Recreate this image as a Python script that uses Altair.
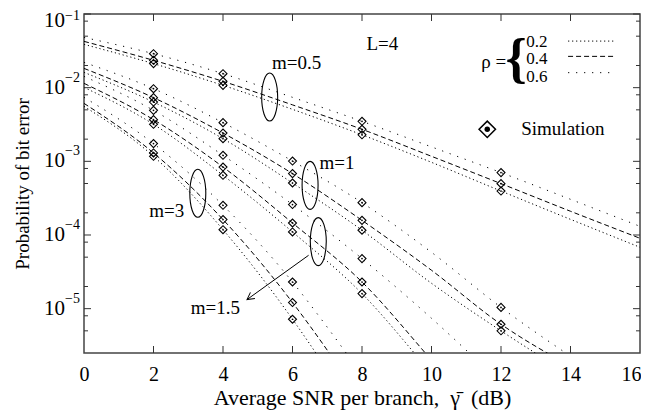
import altair as alt
import pandas as pd

SERIF = "Liberation Serif"

# ---------------- theory curves (BER) ----------------
snr_m05 = [0, 2, 4, 6, 8, 10, 12, 14, 16]
m05_r02 = [0.0387, 0.0212, 0.01075, 0.00508, 0.00229, 0.000969, 0.000395, 0.000163, 0.0000681]
m05_r04 = [0.0425, 0.0235, 0.01218, 0.00584, 0.00272, 0.00117, 0.000498, 0.00021, 0.0000902]
m05_r06 = [0.0481, 0.0289, 0.01549, 0.00739, 0.00349, 0.00157, 0.000703, 0.000305, 0.000131]

snr_m1 = [0, 2, 4, 6, 8, 10, 12, 14]
m1_r02 = [0.01613, 0.00638, 0.00203, 0.000508, 0.000116, 0.0000221, 0.0000050, 0.00000125]
m1_r04 = [0.01827, 0.00732, 0.00242, 0.000681, 0.000158, 0.0000332, 0.00000614, 0.00000165]
m1_r06 = [0.02204, 0.00969, 0.00335, 0.001009, 0.000275, 0.0000582, 0.0000104, 0.00000226]

snr_m15 = [0, 2, 4, 6, 8, 10, 12]
m15_r02 = [0.01009, 0.00318, 0.000646, 0.00011, 0.000016, 0.00000133, 0.00000011]
m15_r04 = [0.01144, 0.00368, 0.000837, 0.0001455, 0.000023, 0.000002, 0.00000016]
m15_r06 = [0.01423, 0.00492, 0.001206, 0.000259, 0.0000478, 0.0000074, 0.00000097]

snr_m3 = [0, 2, 4, 6, 7, 8]
m3_r02 = [0.00558, 0.00117, 0.000118, 0.00000718, 0.00000146, 0.00000026]
m3_r04 = [0.00612, 0.0013, 0.000162, 0.0000121, 0.00000273, 0.00000054]
m3_r06 = [0.00739, 0.00174, 0.000253, 0.000023, 0.0000056, 0.00000125]

# ---------------- simulation points ----------------
sim_snr_m05 = [2, 4, 8, 12]
sim_m05_r02 = [0.0212, 0.01075, 0.00229, 0.000395]
sim_m05_r04 = [0.0235, 0.01218, 0.00272, 0.000498]
sim_m05_r06 = [0.0289, 0.01549, 0.00349, 0.000703]

sim_snr_m1 = [2, 4, 6, 8, 12]
sim_m1_r02 = [0.00638, 0.00203, 0.000508, 0.000116, 0.0000050]
sim_m1_r04 = [0.00732, 0.00242, 0.000681, 0.000158, 0.00000614]
sim_m1_r06 = [0.00969, 0.00335, 0.001009, 0.000275, 0.0000104]

sim_snr_m15 = [2, 4, 6, 8]
sim_m15_r02 = [0.00318, 0.000646, 0.00011, 0.000016]
sim_m15_r04 = [0.00368, 0.000837, 0.0001455, 0.000023]
sim_m15_r06 = [0.00492, 0.001206, 0.000259, 0.0000478]

sim_snr_m3 = [2, 4, 6]
sim_m3_r02 = [0.00117, 0.000118, 0.00000718]
sim_m3_r04 = [0.0013, 0.000162, 0.0000121]
sim_m3_r06 = [0.00174, 0.000253, 0.000023]

# ---------------- axes ----------------
x_label_values = [0, 2, 4, 6, 8, 10, 12, 14, 16]
x_tick_values = [2, 4, 6, 8, 10, 12, 14]
y_exponents = [-1, -2, -3, -4, -5]
y_minor = [0.08, 0.05, 0.02, 0.008, 0.005, 0.002, 0.0008, 0.0005, 0.0002,
           0.00008, 0.00005, 0.00002, 0.000008, 0.000005]
X_MIN, X_MAX = 0, 16
Y_MIN, Y_MAX = 2.5e-6, 0.1
NB = "\u00a0"
X_TITLE = "Average SNR per branch," + NB * 2 + "\u03b3\u0304" + NB * 2 + "(dB)"
Y_TITLE = "Probability of bit error"

# ---------------- annotations ----------------
ell_x = [5.343, 6.506, 6.742, 3.275]
ell_y = [0.00746, 0.000472, 0.0000813, 0.000368]
mlab_text = ["m=0.5", "m=1", "m=1.5", "m=3"]
mlab_x = [6.118, 7.282, 3.783, 2.384]
mlab_y = [0.02137, 0.00094, 0.00001028, 0.00021]
arrow_x = [6.463, 4.691]
arrow_y = [0.000053, 0.00001329]
L_text, L_x, L_y = "L=4", 8.13, 0.0393

# legend
rho_levels = ["0.2", "0.4", "0.6"]
rho_y = [0.0418, 0.0245, 0.0141]
rho_sample_y = [0.04288, 0.0266, 0.01598]
rho_sample_x = [13.93, 15.31]
rho_num_x = 12.725
rho_sym_x, rho_sym_y = 12.151, 0.02204
brace_x, brace_y = 12.438, 0.02346
simleg_x, simleg_y, simleg_text_x = 11.605, 0.002718, 12.582

# ---------------- data tables ----------------
theory_sets = [
    ("0.5", snr_m05, [m05_r02, m05_r04, m05_r06]),
    ("1", snr_m1, [m1_r02, m1_r04, m1_r06]),
    ("1.5", snr_m15, [m15_r02, m15_r04, m15_r06]),
    ("3", snr_m3, [m3_r02, m3_r04, m3_r06]),
]
rows = []
for m, xs_, curves in theory_sets:
    for rho, ys_ in zip(rho_levels, curves):
        for xv, yv in zip(xs_, ys_):
            rows.append({"m": m, "rho": rho, "snr": xv, "ber": yv})
theory = pd.DataFrame(rows)

sim_sets = [
    ("0.5", sim_snr_m05, [sim_m05_r02, sim_m05_r04, sim_m05_r06]),
    ("1", sim_snr_m1, [sim_m1_r02, sim_m1_r04, sim_m1_r06]),
    ("1.5", sim_snr_m15, [sim_m15_r02, sim_m15_r04, sim_m15_r06]),
    ("3", sim_snr_m3, [sim_m3_r02, sim_m3_r04, sim_m3_r06]),
]
srows = []
for m, xs_, curves in sim_sets:
    for rho, ys_ in zip(rho_levels, curves):
        for xv, yv in zip(xs_, ys_):
            srows.append({"m": m, "rho": rho, "snr": xv, "ber": yv})
sim = pd.DataFrame(srows)

xs = alt.Scale(domain=[X_MIN, X_MAX], nice=False, zero=False)
ys = alt.Scale(type="log", domain=[Y_MIN, Y_MAX], nice=False)
dash_scale = alt.Scale(domain=rho_levels, range=[[1.2, 2.8], [5, 3], [1.2, 6.8]])

XAXIS = alt.Axis(
    values=x_label_values, format="d", labelFontSize=20, ticks=False,
    domain=False, grid=False, labelPadding=11, labelFlush=False,
    labelOverlap=False, title=X_TITLE, titleFontSize=22, titlePadding=3,
    labelOffset={"condition": {"test": f"datum.value == {X_MAX}", "value": -9}, "value": 0})
YAXIS = alt.Axis(
    title=Y_TITLE, labels=False, ticks=False, domain=False, grid=False,
    titleFontSize=19, titlePadding=52)


def X(f="snr"):
    return alt.X(f, type="quantitative", scale=xs, axis=XAXIS, title=X_TITLE)


def Y(f="ber"):
    return alt.Y(f, type="quantitative", scale=ys, axis=YAXIS, title=Y_TITLE)


def XD(v):
    return alt.XDatum(v, type="quantitative", scale=xs, axis=XAXIS, title=X_TITLE)


def YD(v):
    return alt.YDatum(v, type="quantitative", scale=ys, axis=YAXIS, title=Y_TITLE)


lines = alt.Chart(theory).mark_line(
    clip=True, strokeWidth=1, color="black", interpolate="monotone"
).encode(
    x=X(), y=Y(),
    strokeDash=alt.StrokeDash("rho:N", scale=dash_scale, legend=None),
    detail="m:N",
)

sim_pts = alt.Chart(sim).mark_point(
    shape="diamond", size=64, filled=False, stroke="black", strokeWidth=1.1, opacity=1
).encode(x=X(), y=Y())
sim_dots = alt.Chart(sim).mark_point(
    shape="circle", size=3, filled=True, color="black", opacity=1
).encode(x=X(), y=Y())

# y tick labels "10" + exponent
ylab = pd.DataFrame({"e": y_exponents})
ylab["val"] = [10.0 ** e for e in y_exponents]
ylab["exp"] = ["\u2212" + str(-e) for e in y_exponents]
ylab["x"] = X_MIN
ten_main = alt.Chart(ylab).transform_filter("datum.e < -1").mark_text(
    align="right", baseline="middle", dx=-19, fontSize=21, font=SERIF, color="black"
).encode(x=X("x"), y=Y("val"), text=alt.value("10"))
exp_main = alt.Chart(ylab).transform_filter("datum.e < -1").mark_text(
    align="left", baseline="middle", dx=-19, dy=-10, fontSize=14, font=SERIF, color="black"
).encode(x=X("x"), y=Y("val"), text="exp:N")
ten_top = alt.Chart(ylab).transform_filter("datum.e == -1").mark_text(
    align="right", baseline="middle", dx=-19, dy=7, fontSize=21, font=SERIF, color="black"
).encode(x=X("x"), y=Y("val"), text=alt.value("10"))
exp_top = alt.Chart(ylab).transform_filter("datum.e == -1").mark_text(
    align="left", baseline="middle", dx=-19, dy=2, fontSize=14, font=SERIF, color="black"
).encode(x=X("x"), y=Y("val"), text="exp:N")

# inward ticks
maj = pd.DataFrame({"val": [10.0 ** e for e in y_exponents]})
mnr = pd.DataFrame({"val": y_minor})
xt = pd.DataFrame({"snr": x_tick_values})
TC = "#333"
tick_layers = []
for df, size in [(maj, 7), (mnr, 4)]:
    tick_layers.append(alt.Chart(df).mark_tick(orient="horizontal", size=size, thickness=1,
                                               color=TC, xOffset=size / 2, opacity=1)
                       .encode(x=XD(X_MIN), y=Y("val")))
    tick_layers.append(alt.Chart(df).mark_tick(orient="horizontal", size=size, thickness=1,
                                               color=TC, xOffset=-size / 2, opacity=1)
                       .encode(x=XD(X_MAX), y=Y("val")))
tick_layers.append(alt.Chart(xt).mark_tick(orient="vertical", size=7, thickness=1, color=TC,
                                           yOffset=-3.5, opacity=1)
                   .encode(x=X("snr"), y=YD(Y_MIN)))
tick_layers.append(alt.Chart(xt).mark_tick(orient="vertical", size=7, thickness=1, color=TC,
                                           yOffset=3.5, opacity=1)
                   .encode(x=X("snr"), y=YD(Y_MAX)))

# ellipses and labels
ELLIPSE = ("M0,-1 C0.184,-1 0.333,-0.552 0.333,0 C0.333,0.552 0.184,1 0,1 "
           "C-0.184,1 -0.333,0.552 -0.333,0 C-0.333,-0.552 -0.184,-1 0,-1 Z")
ell = pd.DataFrame({"snr": ell_x, "ber": ell_y})
ellipses = alt.Chart(ell).mark_point(
    shape=ELLIPSE, size=2304, filled=False, stroke="black", strokeWidth=1.1, opacity=1
).encode(x=X(), y=Y())
mlab = pd.DataFrame({"snr": mlab_x, "ber": mlab_y, "t": mlab_text})
mlabels = alt.Chart(mlab).mark_text(
    align="center", baseline="middle", fontSize=19, font=SERIF, color="black"
).encode(x=X(), y=Y(), text="t:N")

arr = pd.DataFrame({"x1": [arrow_x[0]], "y1": [arrow_y[0]], "x2": [arrow_x[1]], "y2": [arrow_y[1]]})
arrow_line = alt.Chart(arr).mark_rule(color="black", strokeWidth=1).encode(
    x=X("x1"), y=Y("y1"), x2="x2", y2="y2")
arrow_head = alt.Chart(arr).mark_point(
    shape="M-1,-0.55 L0,0 L-1,0.55", size=196, filled=False, stroke="black",
    strokeWidth=1, angle=144.3, opacity=1
).encode(x=X("x2"), y=Y("y2"))

Ltxt = alt.Chart(pd.DataFrame({"snr": [L_x], "ber": [L_y], "t": [L_text]})).mark_text(
    align="left", baseline="middle", fontSize=19, font=SERIF, color="black"
).encode(x=X(), y=Y(), text="t:N")

# legend (rho)
rho_sym = alt.Chart(pd.DataFrame({"snr": [rho_sym_x], "ber": [rho_sym_y]})).mark_text(
    align="right", baseline="middle", fontSize=19, font=SERIF, color="black"
).encode(x=X(), y=Y(), text=alt.value("\u03c1 ="))
brace = alt.Chart(pd.DataFrame({"snr": [brace_x], "ber": [brace_y]})).mark_text(
    align="center", baseline="middle", fontSize=54, font=SERIF, fontWeight="bold", color="black"
).encode(x=X(), y=Y(), text=alt.value("{"))
rho_nums = alt.Chart(pd.DataFrame({"snr": [rho_num_x] * 3, "ber": rho_y, "t": rho_levels})).mark_text(
    align="left", baseline="middle", fontSize=17, font=SERIF, color="black"
).encode(x=X(), y=Y(), text="t:N")
samp_rows = []
for rho, yv in zip(rho_levels, rho_sample_y):
    for xv in rho_sample_x:
        samp_rows.append({"rho": rho, "snr": xv, "ber": yv})
samples = alt.Chart(pd.DataFrame(samp_rows)).mark_line(strokeWidth=1, color="black").encode(
    x=X(), y=Y(), strokeDash=alt.StrokeDash("rho:N", scale=dash_scale, legend=None), detail="rho:N")

simleg = pd.DataFrame({"snr": [simleg_x], "ber": [simleg_y]})
simleg_d = alt.Chart(simleg).mark_point(
    shape="diamond", size=270, filled=False, stroke="black", strokeWidth=1.5, opacity=1
).encode(x=X(), y=Y())
simleg_c = alt.Chart(simleg).mark_point(
    shape="circle", size=30, filled=True, color="black", opacity=1
).encode(x=X(), y=Y())
simleg_t = alt.Chart(pd.DataFrame({"snr": [simleg_text_x], "ber": [simleg_y]})).mark_text(
    align="left", baseline="middle", fontSize=19, font=SERIF, color="black"
).encode(x=X(), y=Y(), text=alt.value("Simulation"))

chart = alt.layer(
    lines, sim_pts, sim_dots, ten_main, exp_main, ten_top, exp_top, *tick_layers,
    ellipses, mlabels, arrow_line, arrow_head, Ltxt,
    rho_sym, brace, rho_nums, samples, simleg_d, simleg_c, simleg_t,
).properties(
    width=556, height=339,
    autosize=alt.AutoSizeParams(type="none"),
    padding={"left": 76, "top": 6, "right": 1, "bottom": 60},
    background="white",
).configure_view(
    stroke="#444", strokeWidth=1.5
).configure_axis(
    labelFont=SERIF, titleFont=SERIF, labelColor="black", titleColor="black",
    titleFontWeight="normal", grid=False
)

chart.save("out.html", embed_options={"renderer": "svg", "actions": False})
